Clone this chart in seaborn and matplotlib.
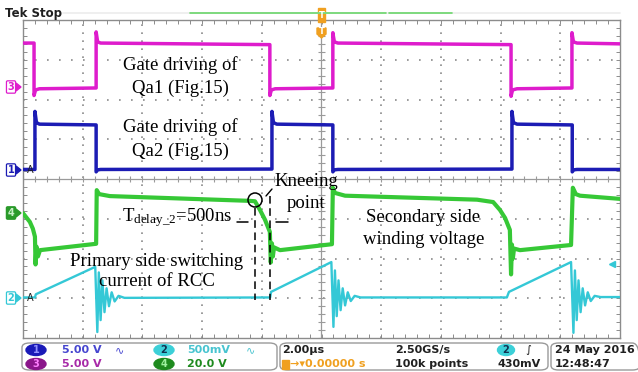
import numpy as np
import pandas as pd
import matplotlib
matplotlib.use("Agg")
import matplotlib.pyplot as plt
import seaborn as sns
from matplotlib.patches import FancyBboxPatch, Ellipse, Rectangle, Polygon
from matplotlib.lines import Line2D

# ---------------- data: time in microseconds, amplitude in screen divisions ----
# CH3 (gate driving Qa1, magenta)
ch3_t = [-10.0, -9.63, -9.63, -9.58, -9.45, -7.55, -7.55, -7.50, -7.40, -1.73, -1.73, -1.68, -1.55,
         0.38, 0.38, 0.43, 0.55, 6.35, 6.35, 6.40, 6.55, 8.39, 8.39, 8.44, 8.56, 10.0]
ch3_v = [3.42, 3.42, 2.10, 2.24, 2.27, 2.29, 3.70, 3.45, 3.42, 3.38, 2.10, 2.24, 2.27,
         2.29, 3.68, 3.45, 3.42, 3.38, 2.08, 2.24, 2.27, 2.29, 3.68, 3.45, 3.42, 3.40]
# CH1 (gate driving Qa2, blue)
ch1_t = [-10.0, -9.60, -9.60, -9.55, -9.45, -7.55, -7.55, -7.50, -7.40, -1.66, -1.66, -1.61, -1.50,
         0.38, 0.38, 0.43, 0.55, 6.38, 6.38, 6.43, 6.55, 8.40, 8.40, 8.45, 8.56, 10.0]
ch1_v = [0.24, 0.24, 1.70, 1.42, 1.38, 1.36, 0.18, 0.23, 0.24, 0.25, 1.70, 1.42, 1.38,
         1.36, 0.18, 0.23, 0.24, 0.25, 1.70, 1.42, 1.38, 1.36, 0.18, 0.23, 0.24, 0.24]
# CH4 (secondary side winding voltage, green)
ch4_t = [-10.0, -9.77, -9.67, -9.60, -9.58, -9.55, -9.50, -9.43, -7.55, -7.53, -7.45, -7.09,
         -2.40, -2.23, -2.06, -1.89, -1.73, -1.70, -1.66, -1.63, -1.59, -1.39, 0.35,
         0.38, 0.45, 0.79, 5.21, 5.75, 5.98, 6.15, 6.31, 6.35, 6.38, 6.41, 6.45, 6.65,
         8.36, 8.42, 8.52, 8.66, 10.0]
ch4_v = [-0.86, -1.08, -1.25, -1.45, -2.15, -1.70, -1.95, -1.79, -1.63, -0.28, -0.38, -0.43,
         -0.55, -0.56, -0.78, -1.03, -1.33, -2.10, -1.62, -1.95, -1.72, -1.79, -1.64,
         -0.22, -0.35, -0.42, -0.52, -0.58, -0.78, -0.98, -1.28, -2.40, -1.65, -2.00, -1.75, -1.79,
         -1.66, -0.22, -0.38, -0.42, -0.50]
# CH2 (primary side switching current of RCC, cyan)
ch2_t = [-10.0, -9.60, -9.57, -7.58,
         -7.51, -7.46, -7.40, -7.34, -7.27, -7.20, -7.12, -7.03, -6.93, -6.80, -6.60,
         -1.72, -1.69, 0.33,
         0.40, 0.45, 0.51, 0.57, 0.64, 0.71, 0.79, 0.88, 0.98, 1.11, 1.31,
         6.21, 6.28, 8.36,
         8.44, 8.49, 8.55, 8.61, 8.68, 8.75, 8.83, 8.92, 9.02, 9.15, 9.35, 10.0]
ch2_v = [-2.98, -2.98, -2.90, -2.21,
         -3.85, -2.35, -3.55, -2.55, -3.35, -2.75, -3.20, -2.85, -3.08, -2.94, -2.99,
         -2.98, -2.84, -2.09,
         -3.72, -2.30, -3.45, -2.55, -3.30, -2.75, -3.18, -2.85, -3.07, -2.94, -2.98,
         -2.98, -2.84, -2.09,
         -3.87, -2.30, -3.55, -2.55, -3.35, -2.75, -3.18, -2.85, -3.07, -2.94, -2.97, -2.97]

ch_ground_div = {"1": 0.22, "2": -3.0, "3": 2.30, "4": -0.87}
ch2_scale_mV = 500
trigger_level_mV = 430

status_scales = {"1": "5.00 V", "2": "500mV", "3": "5.00 V", "4": "20.0 V"}
timebase = "2.00\u00b5s"
sample_rate = "2.50GS/s"
record_len = "100k points"
trig_delay = "0.00000 s"
date_str = "24 May 2016"
time_str = "12:48:47"

colors = {"1": "#1c1cb4", "2": "#34c8d6", "3": "#de1ccc", "4": "#36c836"}

# ---------------- figure ------------------------------------------------------
sns.set_theme(style="white")
plt.rcParams['font.family'] = ['DejaVu Sans']
plt.rcParams['mathtext.fontset'] = 'custom'
plt.rcParams['mathtext.rm'] = 'Liberation Serif'
plt.rcParams['mathtext.it'] = 'Liberation Serif:italic'

W, H = 638, 372
fig = plt.figure(figsize=(W / 100, H / 100), dpi=100)
fig.patch.set_facecolor("white")

def fx(px):
    return px / W

def fy(py):
    return 1 - py / H

L, R, T, B = 23, 620, 20, 338
ax = fig.add_axes([fx(L), fy(B), (R - L) / W, (B - T) / H])
ax.set_facecolor("white")
ax.set_xlim(-10, 10)
ax.set_ylim(-4, 4)

grid_c = "#8a8a8a"
for s in ax.spines.values():
    s.set_color("#8c8c8c")
    s.set_linewidth(1.0)
ax.set_xticks(np.arange(-10, 10.001, 0.4))
ax.set_yticks(np.arange(-4, 4.001, 0.2))
ax.tick_params(axis="both", which="major", direction="in", length=3, width=0.7,
               color="#8c8c8c", top=True, right=True, bottom=True, left=True,
               labelbottom=False, labelleft=False)
for gy in [-3, -2, -1, 1, 2, 3]:
    ax.add_line(Line2D([-10, 10], [gy, gy], color=grid_c, lw=1.2,
                       dashes=(1.0, 6.2), zorder=1))
for gx in [-8, -6, -4, -2, 2, 4, 6, 8]:
    ax.add_line(Line2D([gx, gx], [-4, 4], color=grid_c, lw=1.2,
                       dashes=(1.0, 3.8), zorder=1))
ax.axhline(0, color="#9a9a9a", lw=0.9, zorder=1)
ax.axvline(0, color="#9a9a9a", lw=0.9, zorder=1)
ax.vlines(np.arange(-10, 10.001, 0.4), -0.08, 0.08, colors="#9a9a9a", lw=0.8, zorder=1)
ax.hlines(np.arange(-4, 4.001, 0.2), -0.12, 0.12, colors="#9a9a9a", lw=0.8, zorder=1)

for t, v, c, lw in [(ch3_t, ch3_v, colors["3"], 2.5), (ch1_t, ch1_v, colors["1"], 2.5),
                    (ch4_t, ch4_v, colors["4"], 3.0), (ch2_t, ch2_v, colors["2"], 1.7)]:
    df = pd.DataFrame({"t": t, "v": v})
    sns.lineplot(data=df, x="t", y="v", ax=ax, color=c, lw=lw, sort=False,
                 estimator=None, legend=False, zorder=3)
ax.set_xlabel("")
ax.set_ylabel("")

# trigger level marker on right edge (ch2)
trig_div = ch_ground_div["2"] + trigger_level_mV / ch2_scale_mV
ax.plot([9.72], [trig_div], marker="<", color=colors["2"], ms=5, clip_on=False)

# ---------------- annotations -------------------------------------------------
serif = dict(family="Liberation Serif", fontsize=13.5, color="black", ha="center", va="center")
for (x, y, s) in [(180, 65, "Gate driving of"), (180, 88, "Qa1 (Fig.15)"),
                  (180, 127, "Gate driving of"), (180, 151, "Qa2 (Fig.15)"),
                  (306, 181, "Kneeing"), (306, 204, "point"),
                  (423, 217, "Secondary side"), (424, 239, "winding voltage"),
                  (157, 261, "Primary side switching"), (157, 282, "current of RCC")]:
    fig.text(fx(x), fy(y), s, **serif)
fig.text(fx(177), fy(218), r"T$_{\rm delay\_2}$=500ns", **serif)

dash = dict(color="black", lw=1.1, linestyle=(0, (5, 3)))
fig.add_artist(Line2D([fx(255), fx(255)], [fy(208), fy(300)], **dash))
fig.add_artist(Line2D([fx(270), fx(270)], [fy(196), fy(300)], **dash))
fig.add_artist(Line2D([fx(237), fx(248)], [fy(222), fy(222)], color="black", lw=1.1))
fig.add_artist(Line2D([fx(276), fx(288)], [fy(222), fy(222)], color="black", lw=1.1))
fig.add_artist(Line2D([fx(266), fx(272)], [fy(196), fy(189)], color="black", lw=1.0))
fig.add_artist(Ellipse((fx(255), fy(200)), 14 / W, 14 / H, fill=False, ec="black", lw=1.1))

# ---------------- top bar -----------------------------------------------------
fig.text(fx(5), fy(13), "Tek Stop", fontsize=8.5, fontweight="bold", va="center", ha="left", color="#202020")
fig.add_artist(Line2D([fx(63), fx(620)], [fy(13), fy(13)], color="#ececec", lw=1.2))
fig.add_artist(Line2D([fx(190), fx(386)], [fy(13), fy(13)], color="#6ad66a", lw=1.2))
fig.add_artist(Line2D([fx(389), fx(452)], [fy(13), fy(13)], color="#6ad66a", lw=1.2))
fig.add_artist(Rectangle((fx(318), fy(22)), 7 / W, 14 / H, color="#f0a020"))
fig.text(fx(321.5), fy(15), "T", fontsize=6, color="white", ha="center", va="center", fontweight="bold")
fig.add_artist(Polygon([(fx(317), fy(28)), (fx(326), fy(28)), (fx(326), fy(34)),
                        (fx(321.5), fy(38)), (fx(317), fy(34))], closed=True, color="#f0a020"))
fig.text(fx(321.5), fy(32), "T", fontsize=6, color="white", ha="center", va="center", fontweight="bold")

# ---------------- left channel markers ----------------------------------------
def ch_marker(num, py, filled, letter_a=False):
    c = colors[num]
    if filled:
        box = dict(boxstyle="round,pad=0.12", fc="#2a9a2a", ec="#2a9a2a")
        tc = "#c8f0c8"
    else:
        box = dict(boxstyle="round,pad=0.12", fc="white", ec=c, lw=0.9)
        tc = c
    fig.text(fx(11), fy(py), num, fontsize=7, color=tc, ha="center", va="center",
             fontweight="bold", bbox=box)
    fig.add_artist(Polygon([(fx(16), fy(py - 4)), (fx(21), fy(py)), (fx(16), fy(py + 4))],
                           closed=True, color=c if not filled else "#2a9a2a"))
    if letter_a:
        fig.text(fx(30), fy(py), "A", fontsize=7, color="#202020", ha="center", va="center")

ch_marker("3", 87, False)
ch_marker("1", 170, False, True)
ch_marker("4", 213, True)
ch_marker("2", 298, False, True)

# ---------------- status bar --------------------------------------------------
for x0, x1 in [(22, 277), (280, 548), (551, 640)]:
    fig.add_artist(FancyBboxPatch((fx(x0), fy(370)), (x1 - x0) / W, 27 / H,
                                  boxstyle="round,pad=0,rounding_size=0.012",
                                  fill=False, ec="#9a9a9a", lw=1.0))

def badge(px, py, num, fc, tc, w=20):
    fig.add_artist(Ellipse((fx(px), fy(py)), w / W, 11 / H, color=fc))
    fig.text(fx(px), fy(py), num, fontsize=7, color=tc, ha="center", va="center", fontweight="bold")

st = dict(fontsize=8, fontweight="bold", va="center", ha="left")
r1, r2 = 350, 364
badge(36, r1, "1", "#1a1ab8", "#9090ff")
badge(36, r2, "3", "#8a168a", "#ff80ff")
badge(164, r1, "2", "#3cd0d8", "#103050")
badge(164, r2, "4", "#1e8a1e", "#a0f0a0")
fig.text(fx(62), fy(r1), status_scales["1"], color="#4646d0", **st)
fig.text(fx(62), fy(r2), status_scales["3"], color="#a82aa8", **st)
fig.text(fx(187), fy(r1), status_scales["2"], color="#48c4d0", **st)
fig.text(fx(187), fy(r2), status_scales["4"], color="#1e8a1e", **st)
fig.text(fx(115), fy(r1), "\u223f", color="#4646d0", fontsize=8, va="center", ha="left")
fig.text(fx(246), fy(r1), "\u223f", color="#48c4d0", fontsize=8, va="center", ha="left")

fig.text(fx(282), fy(r1), timebase, color="#202020", **st)
fig.add_artist(Rectangle((fx(282), fy(369)), 7 / W, 9 / H, color="#f0a020"))
fig.text(fx(290), fy(r2), "\u2192\u25be" + trig_delay, color="#f0a020", **st)
fig.text(fx(395), fy(r1), sample_rate, color="#202020", **st)
fig.text(fx(395), fy(r2), record_len, color="#202020", **st)
badge(506, r1, "2", "#3cd0d8", "#103050", w=17)
fig.text(fx(528), fy(r1), "\u222b", color="#202020", fontsize=8, va="center", ha="center")
fig.text(fx(541), fy(r2), f"{trigger_level_mV}mV", color="#202020",
         fontsize=8, fontweight="bold", va="center", ha="right")
fig.text(fx(555), fy(r1), date_str, color="#202020", **st)
fig.text(fx(555), fy(r2), time_str, color="#202020", **st)

fig.savefig("out.png", dpi=100, facecolor="white")
